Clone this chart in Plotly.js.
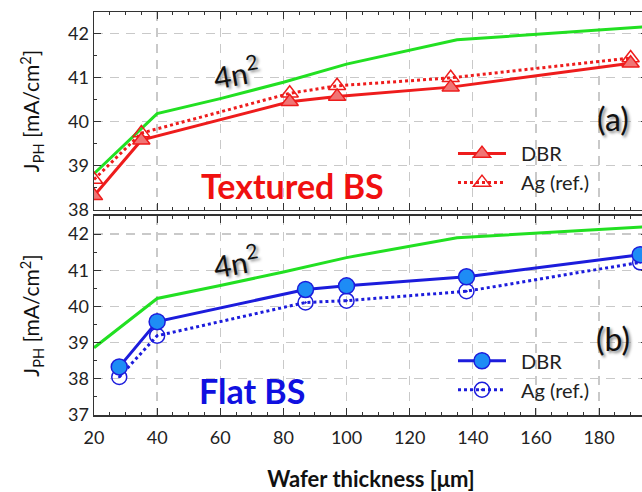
<!DOCTYPE html>
<html><head><meta charset="utf-8">
<script src="https://cdn.plot.ly/plotly-3.0.1.min.js"></script>
<style>html,body{margin:0;padding:0;overflow:hidden;background:#fff;width:642px;height:492px}</style>
</head><body><div id="chart"></div>
<script>
// ---- data ----
const limitX = [20, 40, 60, 80, 100, 135, 195];
const limitTop = [38.82, 40.18, 40.52, 40.89, 41.3, 41.85, 42.15];
const limitBot = [38.86, 40.22, 40.58, 40.95, 41.35, 41.9, 42.2];

const texX = [20, 35, 82, 97, 133, 190];
const texDBR = [38.32, 39.58, 40.45, 40.57, 40.78, 41.32];
const texAg = [38.69, 39.74, 40.64, 40.81, 40.99, 41.44];

const flatX = [28, 40, 87, 100, 138, 193];
const flatDBR = [38.33, 39.58, 40.47, 40.57, 40.82, 41.43];
const flatAg = [38.05, 39.19, 40.11, 40.16, 40.42, 41.22];

const xTicks = [20, 40, 60, 80, 100, 120, 140, 160, 180];
const yTopTicks = [38, 39, 40, 41, 42];
const yBotTicks = [37, 38, 39, 40, 41, 42];

const FONT = 'Lato, "Open Sans", sans-serif';
const red = '#ee1c1c', redFill = '#f07575';
const blue = '#1c1cdc', blueFill = '#1e8cf5';
const green = '#22e022';
const SP = '\u2002';

const traces = [
  {x: limitX, y: limitTop, xaxis: 'x2', yaxis: 'y2', mode: 'lines', line: {color: green, width: 3}, showlegend: false},
  {x: texX, y: texAg, xaxis: 'x2', yaxis: 'y2', mode: 'lines+markers', name: SP + 'Ag (ref.)', legend: 'legend',
   line: {color: red, width: 3, dash: 'dot'}, marker: {symbol: 'triangle-up-open', size: 15, color: red, line: {width: 1.5}}},
  {x: texX, y: texDBR, xaxis: 'x2', yaxis: 'y2', mode: 'lines+markers', name: SP + 'DBR', legend: 'legend',
   line: {color: red, width: 3}, marker: {symbol: 'triangle-up', size: 15, color: redFill, line: {color: red, width: 1.5}}},
  {x: limitX, y: limitBot, xaxis: 'x', yaxis: 'y', mode: 'lines', line: {color: green, width: 3}, showlegend: false},
  {x: flatX, y: flatAg, xaxis: 'x', yaxis: 'y', mode: 'lines+markers', name: SP + 'Ag (ref.)', legend: 'legend2',
   line: {color: blue, width: 3, dash: 'dot'}, marker: {symbol: 'circle-open-dot', size: 15, color: blue, line: {width: 1.5}}},
  {x: flatX, y: flatDBR, xaxis: 'x', yaxis: 'y', mode: 'lines+markers', name: SP + 'DBR', legend: 'legend2',
   line: {color: blue, width: 3}, marker: {symbol: 'circle', size: 16, color: blueFill, line: {color: blue, width: 1.5}}}
];

const axCommon = {
  showline: true, linecolor: '#333', linewidth: 1.5, mirror: 'all',
  ticks: 'inside', ticklen: 7, tickcolor: '#333', tickwidth: 1,
  showgrid: true, gridcolor: '#c9c9c9', griddash: '9px,7px', gridwidth: 1.3,
  zeroline: false, tickfont: {family: FONT, size: 18, color: '#222'}
};
const yTitle = {text: 'J<sub>PH</sub> [mA/cm<sup>2</sup>]', font: {family: FONT, size: 21, color: '#111'}, standoff: 22};
const layout = {
  width: 652, height: 492,
  margin: {l: 94, r: 4, t: 12, b: 77},
  paper_bgcolor: '#fff', plot_bgcolor: '#fff',
  font: {family: FONT},
  xaxis: Object.assign({}, axCommon, {anchor: 'y', range: [20, 195.5], tickvals: xTicks, ticklabelstandoff: 6,
    minor: {dtick: 5, ticks: 'inside', ticklen: 3, tickcolor: '#333', showgrid: false},
    title: {text: 'Wafer thickness [μm]', font: {family: FONT, size: 22, color: '#111', weight: 'bold'}, standoff: 24}}),
  xaxis2: Object.assign({}, axCommon, {anchor: 'y2', matches: 'x', range: [20, 195.5], tickvals: xTicks, showticklabels: false,
    minor: {dtick: 5, ticks: 'inside', ticklen: 3, tickcolor: '#333', showgrid: false}}),
  yaxis: Object.assign({}, axCommon, {domain: [0, 0.4938], range: [37, 42.5], tickvals: yBotTicks,
    minor: {dtick: 0.5, ticks: 'inside', ticklen: 3, tickcolor: '#333', showgrid: false}, title: yTitle}),
  yaxis2: Object.assign({}, axCommon, {domain: [0.5087, 1], range: [38, 42.48], tickvals: yTopTicks,
    minor: {dtick: 0.5, ticks: 'inside', ticklen: 3, tickcolor: '#333', showgrid: false}, title: yTitle}),
  legend: {x: 0.648, y: 0.697, xanchor: 'left', yanchor: 'top', bgcolor: 'rgba(0,0,0,0)', traceorder: 'reversed',
    font: {family: FONT, size: 20, color: '#222'}, itemwidth: 48},
  legend2: {x: 0.648, y: 0.183, xanchor: 'left', yanchor: 'top', bgcolor: 'rgba(0,0,0,0)', traceorder: 'reversed',
    font: {family: FONT, size: 20, color: '#222'}, itemwidth: 48},
  annotations: [
    {xref: 'x2', yref: 'y2', x: 65, y: 41.12, text: '4n<sup>2</sup>', showarrow: false, textangle: -10,
     font: {family: FONT, size: 30, color: '#111', shadow: '2px 2px 3px #888'}},
    {xref: 'x2', yref: 'y2', x: 184.5, y: 40.08, text: '(a)', showarrow: false,
     font: {family: FONT, size: 32, color: '#111', shadow: '2px 2px 3px #888'}},
    {xref: 'x2', yref: 'y2', x: 83, y: 38.55, text: 'Textured BS', showarrow: false,
     font: {family: FONT, size: 34, color: '#f01010', weight: 'bold'}},
    {xref: 'x', yref: 'y', x: 65, y: 41.25, text: '4n<sup>2</sup>', showarrow: false, textangle: -10,
     font: {family: FONT, size: 30, color: '#111', shadow: '2px 2px 3px #888'}},
    {xref: 'x', yref: 'y', x: 184.5, y: 39.11, text: '(b)', showarrow: false,
     font: {family: FONT, size: 32, color: '#111', shadow: '2px 2px 3px #888'}},
    {xref: 'x', yref: 'y', x: 70, y: 37.69, text: 'Flat BS', showarrow: false,
     font: {family: FONT, size: 34, color: '#1010e0', weight: 'bold'}}
  ]
};
Plotly.newPlot('chart', traces, layout, {displayModeBar: false, staticPlot: true});
</script></body></html>
